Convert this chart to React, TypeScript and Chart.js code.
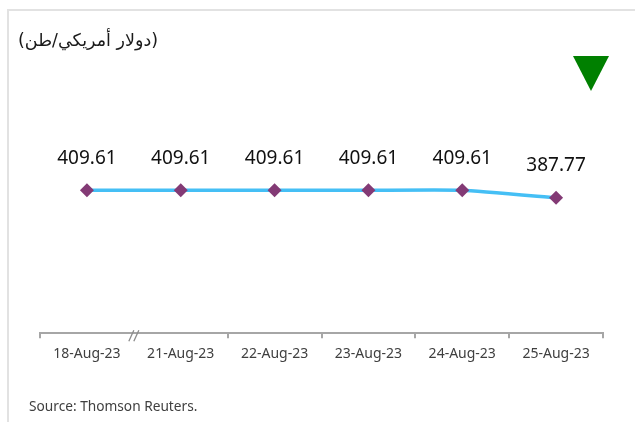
import React, { useEffect, useRef } from "react";
import { Chart, registerables } from "chart.js";

Chart.register(...registerables);

const categories = ["18-Aug-23", "21-Aug-23", "22-Aug-23", "23-Aug-23", "24-Aug-23", "25-Aug-23"];
const prices = [409.61, 409.61, 409.61, 409.61, 409.61, 387.77];
const priceLabels = ["409.61", "409.61", "409.61", "409.61", "409.61", "387.77"];
const titleText = "(دولار أمريكي/طن)";
const sourceText = "Source: Thomson Reuters.";

const dataLabelPlugin = {
  id: "dataLabels",
  afterDatasetsDraw(chart: any) {
    const ctx = chart.ctx;
    const meta = chart.getDatasetMeta(0);
    ctx.save();
    ctx.font = "19px 'Noto Sans', sans-serif";
    ctx.fillStyle = "#111111";
    ctx.textAlign = "center";
    ctx.textBaseline = "middle";
    meta.data.forEach((pt: any, i: number) => {
      ctx.fillText(priceLabels[i], pt.x, pt.y - 32);
    });
    ctx.restore();
  },
};

const breakPlugin = {
  id: "axisBreak",
  afterDraw(chart: any) {
    const ctx = chart.ctx;
    const xs = chart.scales.x;
    const x0 = xs.getPixelForValue(0);
    const x1 = xs.getPixelForValue(1);
    const mx = (x0 + x1) / 2;
    const y = chart.chartArea.bottom;
    ctx.save();
    ctx.strokeStyle = "#8c8c8c";
    ctx.lineWidth = 1.3;
    ctx.beginPath();
    ctx.moveTo(mx - 5, y + 8);
    ctx.lineTo(mx, y - 3);
    ctx.moveTo(mx, y + 8);
    ctx.lineTo(mx + 5, y - 3);
    ctx.stroke();
    ctx.restore();
  },
};

export default function App() {
  const canvasRef = useRef<HTMLCanvasElement>(null);

  useEffect(() => {
    if (!canvasRef.current) return;
    const chart = new Chart(canvasRef.current, {
      type: "line",
      data: {
        labels: categories,
        datasets: [
          {
            data: prices,
            borderColor: "#45bff5",
            borderWidth: 3.5,
            tension: 0.15,
            pointStyle: "rectRot",
            pointRadius: 7,
            pointBackgroundColor: "#833a75",
            pointBorderColor: "#833a75",
            pointBorderWidth: 0,
            fill: false,
          },
        ],
      },
      options: {
        animation: false,
        responsive: false,
        maintainAspectRatio: false,
        events: [],
        layout: { padding: { left: 40, right: 32, top: 54, bottom: 53 } },
        plugins: {
          legend: { display: false },
          tooltip: { enabled: false },
          title: { display: false },
        },
        scales: {
          x: {
            offset: true,
            grid: {
              offset: true,
              drawOnChartArea: false,
              drawTicks: true,
              tickLength: 5,
              lineWidth: 2,
              color: (ctx: any) => (ctx.index === 1 ? "rgba(0,0,0,0)" : "#a6a6a6"),
            },
            border: { display: true, color: "#a6a6a6", width: 2 },
            ticks: {
              color: "#404040",
              font: { family: "'Noto Sans', sans-serif", size: 14 },
              padding: 7,
              maxRotation: 0,
              autoSkip: false,
            },
          },
          y: {
            display: false,
            min: 0,
            max: 800,
          },
        },
      },
      plugins: [dataLabelPlugin, breakPlugin],
    });
    return () => chart.destroy();
  }, []);

  return (
    <div
      style={{
        position: "fixed",
        left: 0,
        top: 0,
        width: 635,
        height: 422,
        overflow: "hidden",
        background: "#ffffff",
      }}
    >
      <div
        style={{
          position: "absolute",
          left: 7,
          top: 9,
          width: 700,
          height: 500,
          borderTop: "2px solid #e2e2e2",
          borderLeft: "2px solid #e2e2e2",
        }}
      />
      <canvas
        ref={canvasRef}
        width={635}
        height={422}
        style={{ position: "absolute", left: 0, top: 0, width: 635, height: 422 }}
      />
      <div
        dir="rtl"
        style={{
          position: "absolute",
          left: 18,
          top: 29,
          fontFamily: "'DejaVu Sans', sans-serif",
          fontSize: 17.5,
          color: "#1a1a1a",
          whiteSpace: "nowrap",
          lineHeight: "22px",
        }}
      >
        {titleText}
      </div>
      <div
        style={{
          position: "absolute",
          left: 573,
          top: 56,
          width: 0,
          height: 0,
          borderLeft: "18px solid transparent",
          borderRight: "18px solid transparent",
          borderTop: "35px solid #008000",
        }}
      />
      <div
        style={{
          position: "absolute",
          left: 29,
          top: 396,
          fontFamily: "'Noto Sans', sans-serif",
          fontSize: 13.7,
          color: "#404040",
          whiteSpace: "nowrap",
          lineHeight: "20px",
        }}
      >
        {sourceText}
      </div>
    </div>
  );
}
